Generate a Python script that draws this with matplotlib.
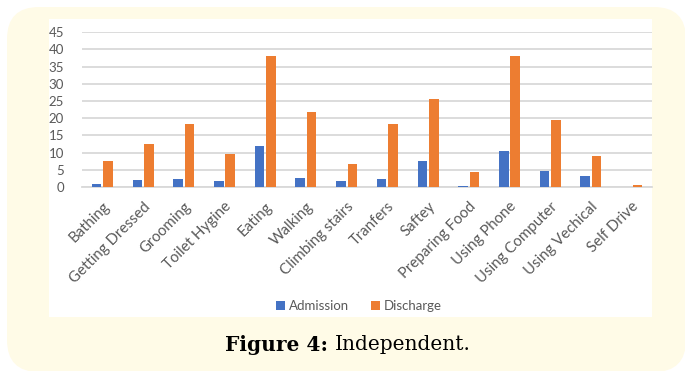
import numpy as np
import matplotlib.pyplot as plt
from matplotlib.patches import FancyBboxPatch, Rectangle

tasks = ['Bathing', 'Getting Dressed', 'Grooming', 'Toilet Hygine', 'Eating',
         'Walking', 'Climbing stairs', 'Tranfers', 'Saftey', 'Preparing Food',
         'Using Phone', 'Using Computer', 'Using Vechical', 'Self Drive']
admission = [1.0, 1.9, 2.2, 1.6, 12.0, 2.7, 1.6, 2.2, 7.7, 0.3, 10.6, 4.7, 3.3, 0.0]
discharge = [7.7, 12.4, 18.4, 9.5, 38.1, 21.9, 6.8, 18.4, 25.7, 4.4, 38.1, 19.5, 8.9, 0.5]

W, H = 685, 371
fig = plt.figure(figsize=(W / 100, H / 100), dpi=100)
fig.patch.set_facecolor('white')

# background layer in pixel units (origin top-left)
bg = fig.add_axes([0, 0, 1, 1])
bg.set_xlim(0, W)
bg.set_ylim(H, 0)
bg.axis('off')
bg.add_patch(FancyBboxPatch((7, 7), W - 7 + 1, H - 7 + 1,
                            boxstyle='round,pad=0,rounding_size=32',
                            facecolor='#fffbe7', edgecolor='none'))
bg.add_patch(Rectangle((49, 19), 652 - 49, 317 - 19,
                       facecolor='white', edgecolor='none'))

ax = fig.add_axes([82 / W, (H - 187) / H, (652 - 82) / W, (187 - 32.3) / H])
ax.set_facecolor('none')

x = np.arange(len(tasks))
bw = 0.235
gap = 0.045
ax.bar(x - (bw + gap) / 2, admission, bw, color='#4472c4', label='Admission', zorder=3)
ax.bar(x + (bw + gap) / 2, discharge, bw, color='#ed7d31', label='Discharge', zorder=3)

ax.set_xlim(-0.5, len(tasks) - 0.5)
ax.set_ylim(0, 45)
ax.set_yticks(range(0, 46, 5))
ax.yaxis.grid(True, color='#d9d9d9', linewidth=1.3, zorder=0)
ax.set_axisbelow(True)
for s in ['top', 'right', 'left']:
    ax.spines[s].set_visible(False)
ax.spines['bottom'].set_color('#d9d9d9')
ax.spines['bottom'].set_linewidth(1.3)
ax.tick_params(axis='both', length=0, colors='#595959')
ax.tick_params(axis='y', pad=13, labelsize=9.5)
ax.tick_params(axis='x', pad=9, labelsize=10.8)
ax.set_xticks(x)
ax.set_xticklabels(tasks, rotation=45, ha='right', va='top',
                   rotation_mode='anchor', fontfamily='Lato')
for t in ax.get_yticklabels():
    t.set_fontfamily('Lato')

leg = fig.legend(loc='center', bbox_to_anchor=(359 / W, (H - 306) / H),
                 ncol=2, frameon=False, prop={'family': 'Lato', 'size': 9.5},
                 handlelength=0.7, handleheight=0.7, handletextpad=0.3,
                 columnspacing=1.6)
for t in leg.get_texts():
    t.set_color('#595959')

# caption: bold label followed by regular text, centred as a whole
cy = (H - 345) / H
t1 = fig.text(0, cy, 'Figure 4: ', fontsize=14.5, fontweight='bold',
              fontfamily='DejaVu Serif', ha='left', va='center')
t2 = fig.text(0, cy, 'Independent.', fontsize=14.5,
              fontfamily='DejaVu Serif', ha='left', va='center')
r = fig.canvas.get_renderer()
w1 = t1.get_window_extent(r).width
w2 = t2.get_window_extent(r).width
x0 = 348 - (w1 + w2) / 2
t1.set_x(x0 / W)
t2.set_x((x0 + w1) / W)

fig.savefig('out.png', dpi=100)
